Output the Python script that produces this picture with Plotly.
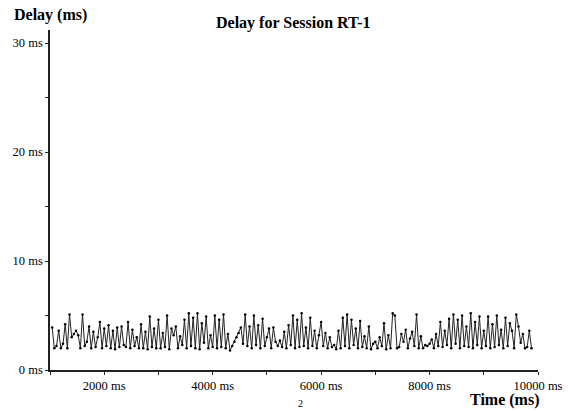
import plotly.graph_objects as go

# Measured one-way delay per packet (ms) for session RT-1
delay_ms = [
    3.9, 2.0, 2.2, 3.6, 2.0, 2.4, 4.2, 2.0, 5.1, 3.0, 3.3, 3.6, 3.2, 2.0, 5.1, 2.2, 2.6, 4.0, 2.0, 3.5, 2.1, 3.0, 4.4, 2.0, 3.8,
    2.2, 4.1, 2.0, 3.6, 1.9, 3.9, 2.1, 4.0, 2.3, 2.1, 4.4, 2.0, 3.7, 2.2, 3.0, 2.0, 4.2, 2.0, 3.5, 1.9, 4.9, 2.1, 3.8, 2.0, 4.6,
    2.0, 3.4, 2.1, 5.0, 1.9, 3.8, 3.2, 4.0, 2.0, 3.1, 2.3, 4.6, 2.0, 5.2, 2.2, 4.8, 2.0, 5.2, 1.9, 4.3, 2.5, 4.9, 2.0, 3.2, 2.1,
    5.0, 2.0, 4.6, 2.1, 5.1, 2.0, 3.3, 1.8, 2.2, 2.6, 3.0, 3.4, 3.9, 2.4, 5.1, 2.2, 4.0, 2.0, 5.0, 2.3, 4.1, 2.0, 4.7, 2.2, 3.0,
    3.8, 2.0, 3.9, 2.6, 2.2, 2.7, 2.1, 3.5, 2.0, 4.1, 2.3, 5.0, 2.0, 4.6, 2.1, 5.2, 2.2, 3.9, 2.0, 4.8, 2.2, 3.6, 2.0, 3.2, 4.4,
    2.2, 3.4, 2.0, 3.0, 2.1, 2.3, 1.9, 3.6, 2.0, 4.8, 2.2, 5.1, 2.0, 4.6, 2.3, 3.8, 2.0, 4.5, 2.1, 3.1, 2.0, 4.0, 1.9, 2.4, 2.6,
    2.0, 3.0, 2.2, 4.3, 1.9, 3.2, 2.0, 5.2, 5.0, 2.0, 2.1, 3.3, 2.6, 3.7, 2.0, 2.9, 3.5, 2.2, 5.1, 2.0, 3.1, 2.0, 2.3, 2.2, 2.4,
    2.8, 2.0, 3.3, 2.2, 4.4, 2.1, 3.6, 2.3, 4.7, 2.0, 5.1, 2.4, 4.6, 2.0, 5.0, 2.2, 4.0, 2.1, 5.2, 2.0, 4.4, 2.3, 4.9, 2.0, 3.6,
    2.2, 4.9, 2.0, 4.2, 2.1, 5.0, 2.3, 3.7, 2.0, 4.8, 2.2, 4.3, 3.6, 2.0, 5.1, 4.0, 2.5, 3.3, 2.0, 2.1, 3.6, 2.0,
]
# Packets sampled every 40 ms starting at 1040 ms
start_ms = 1040
interval_ms = 40
time_ms = [start_ms + interval_ms * i for i in range(len(delay_ms))]

x_ticks = [2000, 4000, 6000, 8000, 10000]
y_ticks = [0, 10, 20, 30]

serif = "Times New Roman, Liberation Serif, serif"

fig = go.Figure()
fig.add_trace(go.Scatter(
    x=time_ms, y=delay_ms, mode="lines+markers",
    line=dict(color="#222222", width=1),
    marker=dict(color="black", size=2.5),
    showlegend=False,
))

axis_common = dict(
    showgrid=False, zeroline=False, showline=True,
    linecolor="#222222", linewidth=1.5,
    ticks="outside", ticklen=3, tickwidth=1, tickcolor="#222222",
    tickfont=dict(family=serif, size=12.5, color="black"),
)

fig.update_xaxes(
    range=[1000, 10000], tickvals=x_ticks,
    ticktext=[f"{v} ms" for v in x_ticks],
    minor=dict(dtick=1000, tick0=0, ticks="outside", ticklen=3, tickcolor="#222222"),
    **axis_common,
)
fig.update_yaxes(
    range=[0, 31.2], tickvals=y_ticks,
    ticktext=[f"{v} ms" for v in y_ticks],
    minor=dict(dtick=5, tick0=0, ticks="outside", ticklen=3, tickcolor="#222222"),
    **axis_common,
)

label_font = dict(family=serif, size=16, color="black")
fig.update_layout(
    width=575, height=411,
    margin=dict(l=50, r=33, t=30, b=41),
    paper_bgcolor="white", plot_bgcolor="white",
    annotations=[
        dict(text="<b>Delay for Session RT-1</b>", xref="paper", yref="paper",
             x=0.498, y=1.022, xanchor="center", yanchor="middle",
             showarrow=False, font=label_font),
        dict(text="<b>Delay (ms)</b>", xref="paper", yref="paper",
             x=0.0, y=1.044, xanchor="center", yanchor="middle",
             showarrow=False, font=label_font),
        dict(text="<b>Time (ms)</b>", xref="paper", yref="paper",
             x=0.931, y=-0.089, xanchor="center", yanchor="middle",
             showarrow=False, font=label_font),
        dict(text="2", xref="paper", yref="paper",
             x=0.514, y=-0.121, xanchor="center", yanchor="bottom",
             showarrow=False, font=dict(family=serif, size=10, color="black")),
    ],
)

fig.write_html("out.html")
